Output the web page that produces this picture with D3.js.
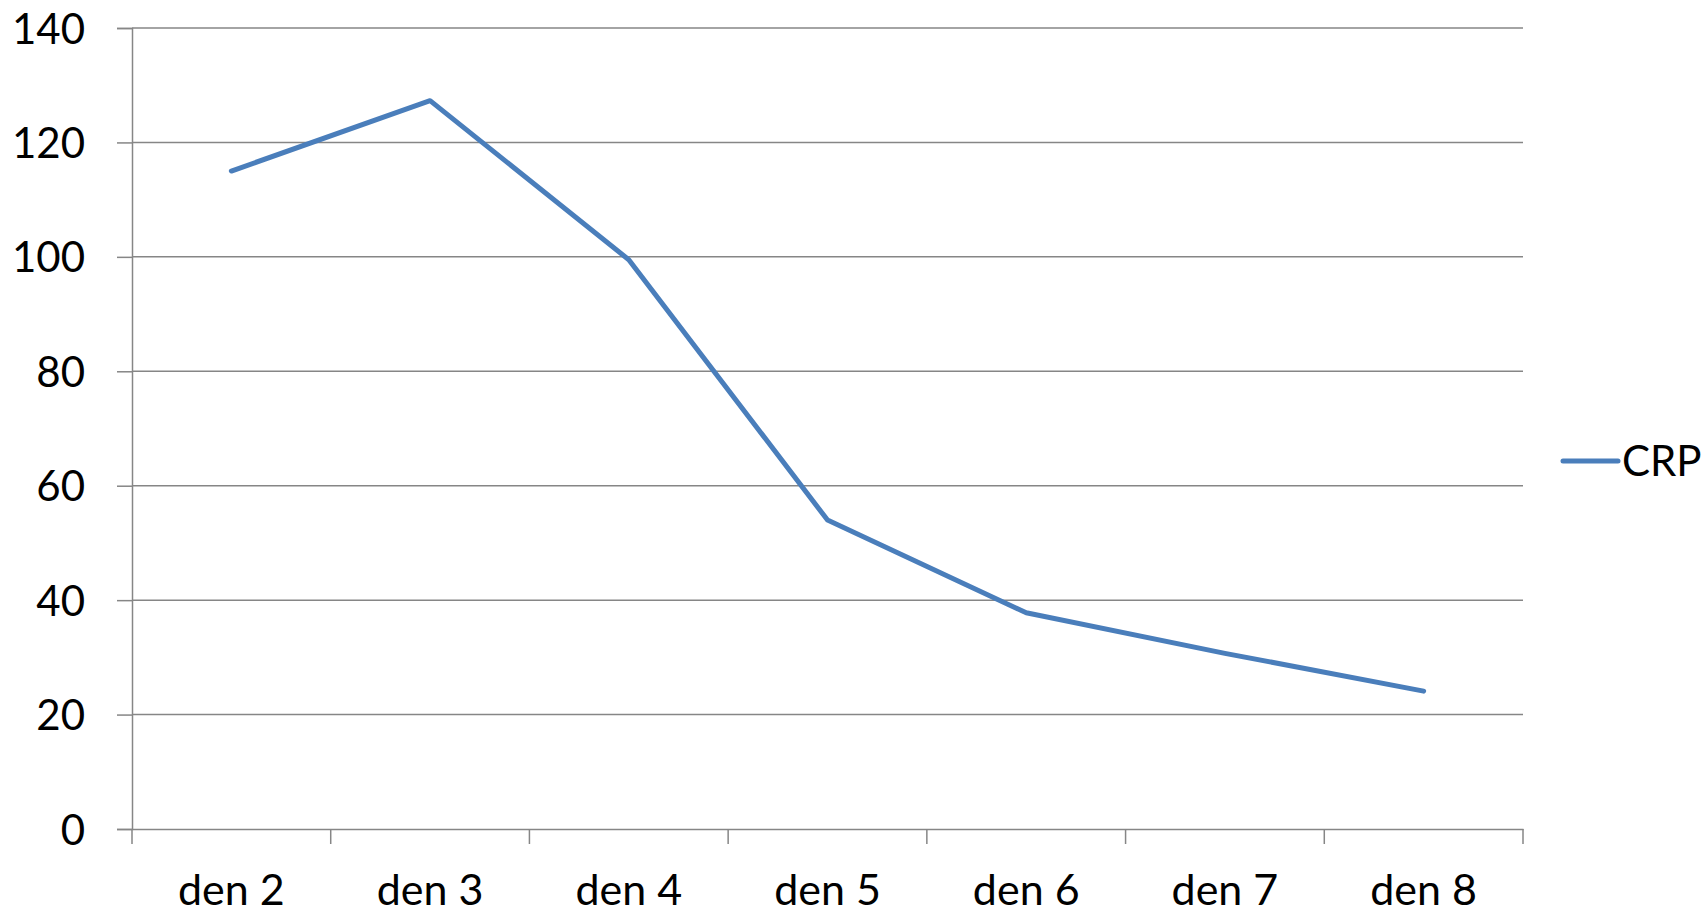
<!DOCTYPE html>
<html>
<head>
<meta charset="utf-8">
<script src="https://cdn.jsdelivr.net/npm/d3@7"></script>
<style>
  html, body { margin: 0; padding: 0; background: #ffffff; }
  svg { display: block; }
  text { font-family: Lato, "Open Sans", sans-serif; fill: #000; }
</style>
</head>
<body>
<svg id="chart" width="1708" height="914"></svg>
<script>
const categories = ["den 2", "den 3", "den 4", "den 5", "den 6", "den 7", "den 8"];
const crpValues = [115, 127.3, 99.5, 54, 37.8, 30.7, 24.1];
const yTicks = [0, 20, 40, 60, 80, 100, 120, 140];
const seriesName = "CRP";

(function () {
const svg = d3.select("#chart");
const plotLeft = 132, plotRight = 1523, plotTop = 28, plotBottom = 829;
const gridColor = "#868686";
const lineColor = "#4a7ebb";
const fontSize = 42;
const xFontSize = 43;

const x = d3.scaleBand().domain(categories).range([plotLeft, plotRight]).padding(0);
const y = d3.scaleLinear().domain([0, 140]).range([plotBottom, plotTop]);

// horizontal gridlines
svg.append("g").selectAll("line").data(yTicks.filter(d => d > 0)).join("line")
  .attr("x1", plotLeft).attr("x2", plotRight)
  .attr("y1", d => y(d)).attr("y2", d => y(d))
  .attr("stroke", gridColor).attr("stroke-width", 1.5);

// y axis
const yAxis = d3.axisLeft(y).tickValues(yTicks).tickSize(15).tickPadding(32);
const gy = svg.append("g").attr("transform", `translate(${plotLeft},0)`).call(yAxis);
gy.select(".domain").attr("stroke", gridColor).attr("stroke-width", 1.5);
gy.selectAll(".tick line").attr("stroke", gridColor).attr("stroke-width", 1.5);
gy.selectAll(".tick text").attr("font-size", fontSize).attr("font-family", "Lato, 'Open Sans', sans-serif")
  .attr("fill", "#000").attr("dy", "0.36em");

// x axis
const xAxis = d3.axisBottom(x).tickSize(0).tickPadding(45).tickFormat(d => d);
const gx = svg.append("g").attr("transform", `translate(0,${plotBottom})`).call(xAxis);
gx.select(".domain").attr("stroke", gridColor).attr("stroke-width", 1.5);
gx.selectAll(".tick text").attr("font-size", xFontSize).attr("font-family", "Lato, 'Open Sans', sans-serif")
  .attr("fill", "#000").attr("dy", "0.71em");
// x tick marks at category boundaries
const bounds = categories.map(c => x(c)).concat([x(categories[categories.length - 1]) + x.bandwidth()]);
svg.append("g").selectAll("line").data(bounds).join("line")
  .attr("x1", d => d).attr("x2", d => d)
  .attr("y1", plotBottom).attr("y2", plotBottom + 15)
  .attr("stroke", gridColor).attr("stroke-width", 1.5);

// data line
const line = d3.line()
  .x((d, i) => x(categories[i]) + x.bandwidth() / 2)
  .y(d => y(d));
svg.append("path").datum(crpValues)
  .attr("d", line)
  .attr("fill", "none")
  .attr("stroke", lineColor)
  .attr("stroke-width", 5)
  .attr("stroke-linejoin", "round")
  .attr("stroke-linecap", "round");

// legend
const lg = svg.append("g").attr("transform", "translate(1563,461)");
lg.append("line").attr("x1", 0).attr("x2", 55).attr("y1", 0).attr("y2", 0)
  .attr("stroke", lineColor).attr("stroke-width", 5).attr("stroke-linecap", "round");
lg.append("text").attr("x", 59).attr("y", 0).attr("dy", "0.36em")
  .attr("font-size", fontSize).text(seriesName);
})();
</script>
</body>
</html>
